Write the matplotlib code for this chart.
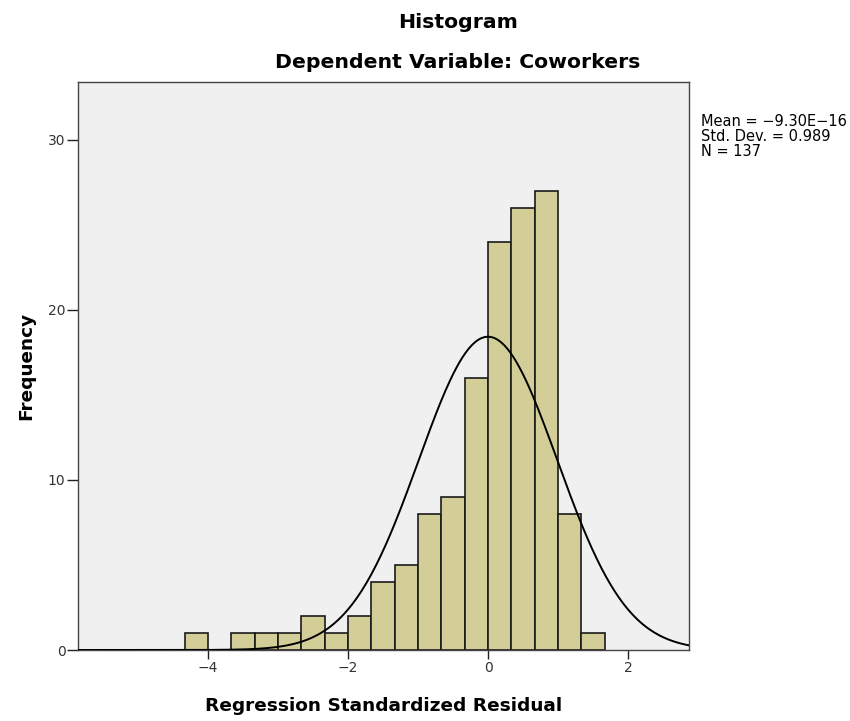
import numpy as np
import matplotlib.pyplot as plt

# bin edges in thirds of a unit, counts
bin_left = [-13, -12, -11, -10, -9, -8, -7, -6, -5, -4, -3, -2, -1, 0, 1, 2, 3, 4]
counts = [1, 0, 1, 1, 1, 2, 1, 2, 4, 5, 8, 9, 16, 24, 26, 27, 8, 1]
bin_width = 1.0 / 3

mean = -9.30e-16
std = 0.989
n = 137

title = "Histogram"
subtitle = "Dependent Variable: Coworkers"
xlabel = "Regression Standardized Residual"
ylabel = "Frequency"
xticks = [-4, -2, 0, 2]
yticks = [0, 10, 20, 30]

plt.rcParams['font.family'] = ['DejaVu Sans']

fig = plt.figure(figsize=(8.5, 7.21), dpi=100)
ax = fig.add_axes([78/850, 71/721, (689-78)/850, (650-82)/721])
ax.set_facecolor('#f0f0f0')

lefts = np.array(bin_left) * bin_width
ax.bar(lefts, counts, width=bin_width, align='edge', color='#d3ce98',
       edgecolor='#1a1a1a', linewidth=1.2, zorder=2)

xs = np.linspace(-5.9, 2.9, 400)
curve = n * bin_width * np.exp(-0.5 * ((xs - mean) / std) ** 2) / (std * np.sqrt(2 * np.pi))
ax.plot(xs, curve, color='black', linewidth=1.4, zorder=3)

ax.set_xlim(-5.857, 2.871)
ax.set_ylim(0, 33.4)
ax.set_xticks(xticks)
ax.set_yticks(yticks)
ax.set_xticklabels([str(t).replace('-', '\u2212') for t in xticks])
ax.tick_params(direction='out', width=1, labelsize=10, color='#222222', labelcolor='#333333')
ax.tick_params(axis='x', length=6.5, pad=1.5)
ax.tick_params(axis='y', length=8, pad=1)
for s in ax.spines.values():
    s.set_color('#444444')
    s.set_linewidth(1)

ax.set_xlabel(xlabel, fontsize=13.3, fontweight='bold', labelpad=16)
ax.set_ylabel(ylabel, fontsize=13.3, fontweight='bold', labelpad=9)

fig.text(0.539, 1 - 22/721, title, ha='center', va='center', fontsize=14.7, fontweight='bold')
fig.text(0.539, 1 - 63/721, subtitle, ha='center', va='center', fontsize=14.7, fontweight='bold')

fig.text(701/850, 1 - 114/721,
         "Mean = \u22129.30E\u221216\nStd. Dev. = 0.989\nN = 137",
         ha='left', va='top', fontsize=10.5, linespacing=0.98)

fig.savefig('out.png', dpi=100)
